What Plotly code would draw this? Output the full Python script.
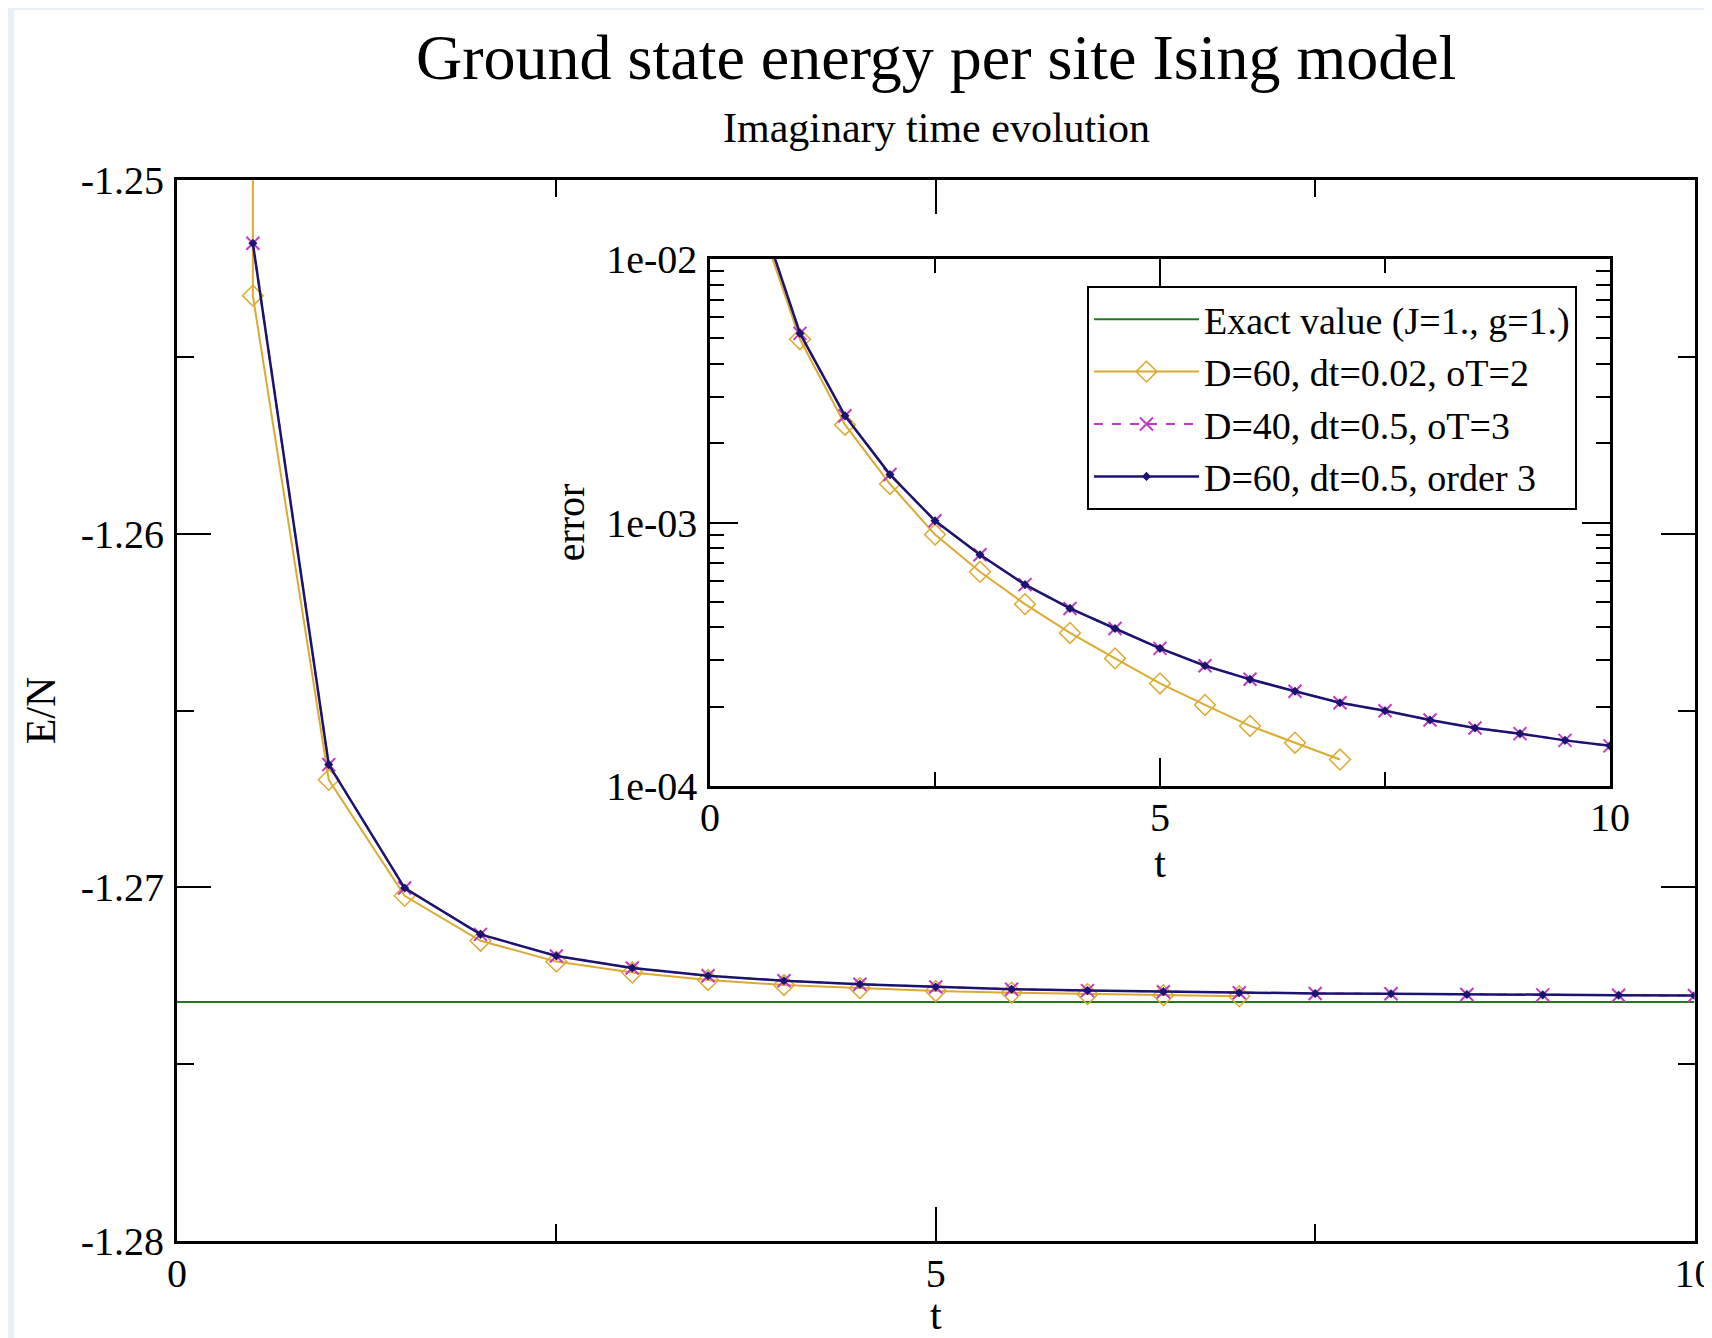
import plotly.graph_objects as go

# ---------------- data ----------------
EXACT_E = -1.27324
exact_t = [0, 10]

# main panel: E/N vs t
t_oT2 = [0.5, 0.5, 1.0, 1.5, 2.0, 2.5, 3.0, 3.5, 4.0, 4.5, 5.0, 5.5, 6.0, 6.5, 7.0]
E_oT2 = [-1.240, -1.25327, -1.26696, -1.27024, -1.27151, -1.27210, -1.27241, -1.27262,
         -1.27276, -1.27285, -1.27293, -1.27298, -1.27302, -1.27305, -1.27308]

t_dt05 = [0.5, 1.0, 1.5, 2.0, 2.5, 3.0, 3.5, 4.0, 4.5, 5.0, 5.5, 6.0, 6.5, 7.0,
          7.5, 8.0, 8.5, 9.0, 9.5, 10.0]
E_D40 = [-1.25179, -1.26653, -1.27002, -1.27133, -1.27194, -1.27228, -1.27250, -1.27264,
         -1.27274, -1.27282, -1.27288, -1.27292, -1.27295, -1.27298, -1.27300, -1.27301,
         -1.27303, -1.27304, -1.27305, -1.27306]
E_D60o3 = [-1.25179, -1.26653, -1.27002, -1.27133, -1.27194, -1.27228, -1.27250, -1.27264,
           -1.27274, -1.27282, -1.27288, -1.27292, -1.27295, -1.27298, -1.27300, -1.27301,
           -1.27303, -1.27304, -1.27305, -1.27306]

# inset: relative error vs t (log scale)
ti_oT2 = [0.5, 1.0, 1.5, 2.0, 2.5, 3.0, 3.5, 4.0, 4.5, 5.0, 5.5, 6.0, 6.5, 7.0]
err_oT2 = [1.57e-2, 4.96e-3, 2.35e-3, 1.40e-3, 9.0e-4, 6.5e-4, 4.9e-4, 3.81e-4, 3.05e-4,
           2.45e-4, 2.03e-4, 1.69e-4, 1.46e-4, 1.26e-4]
ti_dt05 = [0.5, 1.0, 1.5, 2.0, 2.5, 3.0, 3.5, 4.0, 4.5, 5.0, 5.5, 6.0, 6.5, 7.0,
           7.5, 8.0, 8.5, 9.0, 9.5, 10.0]
err_D40 = [1.69e-2, 5.22e-3, 2.54e-3, 1.52e-3, 1.015e-3, 7.54e-4, 5.81e-4, 4.72e-4, 3.96e-4,
           3.33e-4, 2.86e-4, 2.54e-4, 2.29e-4, 2.07e-4, 1.93e-4, 1.78e-4, 1.66e-4,
           1.58e-4, 1.49e-4, 1.42e-4]
err_D60o3 = [1.69e-2, 5.22e-3, 2.54e-3, 1.52e-3, 1.015e-3, 7.54e-4, 5.81e-4, 4.72e-4, 3.96e-4,
             3.33e-4, 2.86e-4, 2.54e-4, 2.29e-4, 2.07e-4, 1.93e-4, 1.78e-4, 1.66e-4,
             1.58e-4, 1.49e-4, 1.42e-4]

names = ["Exact value (J=1., g=1.)", "D=60, dt=0.02, oT=2",
         "D=40, dt=0.5, oT=3", "D=60, dt=0.5, order 3"]
main_ytick_vals = [-1.28, -1.27, -1.26, -1.25]
main_ytick_text = ["-1.28", "-1.27", "-1.26", "-1.25"]
inset_ytick_vals = [1e-4, 1e-3, 1e-2]
inset_ytick_text = ["1e-04", "1e-03", "1e-02"]

# ---------------- styles ----------------
FONT = "Liberation Serif"
GREEN = "#1f7a1f"
GOLD = "#dcaa30"
MAGENTA = "#c238c8"
NAVY = "#1a1470"
BAND = "#e7f0f9"

# the page body adds an 8px margin; lay the figure out in page pixels minus that offset
OFF = 8
W, H = 1712 - OFF, 1338 - OFF
fig = go.Figure()

# main panel traces
fig.add_trace(go.Scatter(x=exact_t, y=[EXACT_E, EXACT_E], mode="lines", name=names[0],
                         line=dict(color=GREEN, width=2), xaxis="x", yaxis="y"))
fig.add_trace(go.Scatter(x=t_oT2, y=E_oT2, mode="lines+markers", name=names[1],
                         line=dict(color=GOLD, width=2),
                         marker=dict(symbol="diamond-open", size=16, color=GOLD, line=dict(width=1.5)),
                         xaxis="x", yaxis="y"))
fig.add_trace(go.Scatter(x=t_dt05, y=E_D40, mode="lines+markers", name=names[2],
                         line=dict(color=MAGENTA, width=2, dash="dash"),
                         marker=dict(symbol="x-thin-open", size=13, color=MAGENTA, line=dict(width=2, color=MAGENTA)),
                         xaxis="x", yaxis="y"))
fig.add_trace(go.Scatter(x=t_dt05, y=E_D60o3, mode="lines+markers", name=names[3],
                         line=dict(color=NAVY, width=2.5),
                         marker=dict(symbol="diamond", size=7, color=NAVY),
                         xaxis="x", yaxis="y"))

# inset traces
fig.add_trace(go.Scatter(x=ti_oT2, y=err_oT2, mode="lines+markers", showlegend=False,
                         line=dict(color=GOLD, width=2),
                         marker=dict(symbol="diamond-open", size=16, color=GOLD, line=dict(width=1.5)),
                         xaxis="x2", yaxis="y2"))
fig.add_trace(go.Scatter(x=ti_dt05, y=err_D40, mode="lines+markers", showlegend=False,
                         line=dict(color=MAGENTA, width=2, dash="dash"),
                         marker=dict(symbol="x-thin-open", size=13, color=MAGENTA, line=dict(width=2, color=MAGENTA)),
                         xaxis="x2", yaxis="y2"))
fig.add_trace(go.Scatter(x=ti_dt05, y=err_D60o3, mode="lines+markers", showlegend=False,
                         line=dict(color=NAVY, width=2.5),
                         marker=dict(symbol="diamond", size=7, color=NAVY),
                         xaxis="x2", yaxis="y2"))

# page-pixel geometry
mx0, mx1, my0, my1 = 177, 1694.5, 180, 1241      # main plot box
ix0, ix1, iy0, iy1 = 710, 1610, 259, 786          # inset box

def px(xp):
    return (xp - OFF) / W

def py(yp):
    return 1 - (yp - OFF) / H

def xd(a, b):
    return [px(a), px(b)]

def yd(top, bottom):
    return [py(bottom), py(top)]

tickfont = dict(family=FONT, size=40, color="black")
common = dict(showline=True, linecolor="black", mirror="ticks", ticks="inside",
              tickcolor="black", showgrid=False, zeroline=False, automargin=False,
              tickfont=tickfont)

fig.update_layout(
    width=W, height=H,
    margin=dict(l=0, r=0, t=0, b=0),
    paper_bgcolor="white", plot_bgcolor="white",
    font=dict(family=FONT, color="black"),
    xaxis=dict(domain=xd(mx0, mx1), range=[0, 10], tick0=0, dtick=5, ticklen=34,
               tickwidth=2, linewidth=3, ticklabelstandoff=-5, ticklabeloverflow="allow",
               minor=dict(ticks="inside", dtick=2.5, ticklen=17, tickwidth=2, tickcolor="black"),
               title=dict(text="t", font=dict(family=FONT, size=42), standoff=4),
               **common),
    yaxis=dict(domain=yd(my0, my1), range=[-1.28, -1.25],
               tickvals=main_ytick_vals, ticktext=main_ytick_text,
               ticklen=34, tickwidth=2, linewidth=3, ticklabelstandoff=2,
               minor=dict(ticks="inside", dtick=0.005, ticklen=17, tickwidth=2, tickcolor="black"),
               title=dict(text="E/N", font=dict(family=FONT, size=42), standoff=12),
               **common),
    xaxis2=dict(domain=xd(ix0, ix1), range=[0, 10], tick0=0, dtick=5, ticklen=28,
                tickwidth=2, linewidth=2.5, anchor="y2", ticklabelstandoff=-6,
                minor=dict(ticks="inside", dtick=2.5, ticklen=14, tickwidth=2, tickcolor="black"),
                title=dict(text="t", font=dict(family=FONT, size=42), standoff=0),
                **common),
    yaxis2=dict(domain=yd(iy0, iy1), type="log", range=[-4, -2], anchor="x2",
                tickvals=inset_ytick_vals, ticktext=inset_ytick_text, ticklen=28,
                tickwidth=2, linewidth=2.5, ticklabelstandoff=2,
                minor=dict(ticks="inside", dtick="D1", ticklen=14, tickwidth=2, tickcolor="black"),
                title=dict(text="error", font=dict(family=FONT, size=40), standoff=10),
                **common),
    legend=dict(x=px(1087), y=py(286), xanchor="left", yanchor="top",
                bgcolor="white", bordercolor="black", borderwidth=2,
                font=dict(family=FONT, size=38, color="black"),
                itemwidth=105, tracegroupgap=0),
    shapes=[
        dict(type="rect", xref="paper", yref="paper", x0=0, x1=1, y0=py(10), y1=1,
             fillcolor=BAND, line=dict(width=0), layer="below"),
        dict(type="rect", xref="paper", yref="paper", x0=0, x1=px(14), y0=0, y1=1,
             fillcolor=BAND, line=dict(width=0), layer="below"),
    ],
    annotations=[
        dict(text="Ground state energy per site Ising model", xref="paper", yref="paper",
             x=px(936), y=py(57), xanchor="center", yanchor="middle", showarrow=False,
             font=dict(family=FONT, size=64, color="black")),
        dict(text="Imaginary time evolution", xref="paper", yref="paper",
             x=px(936), y=py(128), xanchor="center", yanchor="middle", showarrow=False,
             font=dict(family=FONT, size=42, color="black")),
    ],
)

fig.write_html("out.html")
